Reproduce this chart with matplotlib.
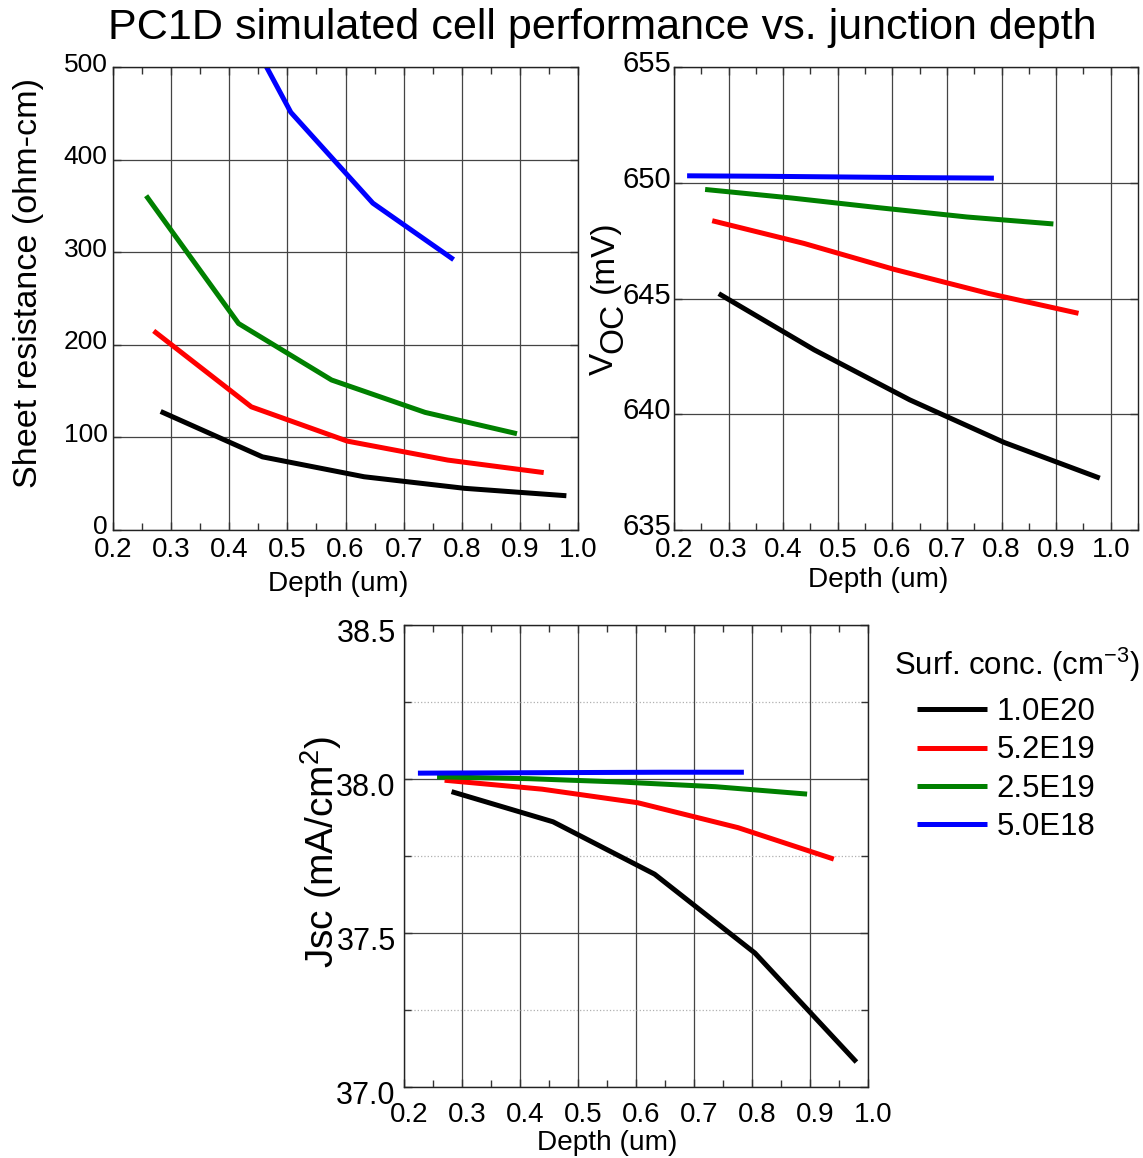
"""PC1D simulated cell performance vs. junction depth (three panels)."""

import matplotlib

matplotlib.use("Agg")
import matplotlib.pyplot as plt
import matplotlib.transforms as mtransforms
from matplotlib.ticker import FormatStrFormatter, MultipleLocator

plt.rcParams["font.family"] = ["Liberation Sans", "DejaVu Sans"]
plt.rcParams["mathtext.default"] = "regular"

# surface concentrations (legend) and colours
conc_labels = ["1.0E20", "5.2E19", "2.5E19", "5.0E18"]
conc_colors = ["#000000", "#ff0000", "#008000", "#0000ff"]

# junction depth (um) per concentration
depth_1e20 = [0.282, 0.457, 0.632, 0.805, 0.980]
depth_52e19 = [0.270, 0.438, 0.603, 0.776, 0.941]
depth_25e19 = [0.257, 0.416, 0.576, 0.737, 0.895]
depth_5e18 = [0.224, 0.365, 0.506, 0.647, 0.786]

# sheet resistance (ohm-cm)
rsh_1e20 = [128, 79, 57.5, 45, 37]
rsh_52e19 = [215, 133, 96, 75.5, 62]
rsh_25e19 = [361, 223, 162, 127, 104]
rsh_5e18 = [900, 616, 451, 353, 292]

# Voc (mV)
voc_1e20 = [645.21, 642.78, 640.62, 638.78, 637.24]
voc_52e19 = [648.36, 647.38, 646.26, 645.22, 644.36]
voc_25e19 = [649.71, 649.34, 648.92, 648.52, 648.22]
voc_5e18 = [650.30, 650.28, 650.25, 650.22, 650.20]

# Jsc (mA/cm2)
jsc_1e20 = [37.959, 37.861, 37.691, 37.435, 37.081]
jsc_52e19 = [37.996, 37.967, 37.923, 37.842, 37.740]
jsc_25e19 = [38.007, 38.001, 37.990, 37.975, 37.951]
jsc_5e18 = [38.019, 38.020, 38.021, 38.022, 38.022]

depths = [depth_1e20, depth_52e19, depth_25e19, depth_5e18]
rsh = [rsh_1e20, rsh_52e19, rsh_25e19, rsh_5e18]
voc = [voc_1e20, voc_52e19, voc_25e19, voc_5e18]
jsc = [jsc_1e20, jsc_52e19, jsc_25e19, jsc_5e18]

W, H = 1143, 1158
fig = plt.figure(figsize=(W / 100, H / 100), dpi=100)


def px_axes(left, top, right, bottom):
    return fig.add_axes([left / W, 1 - bottom / H, (right - left) / W, (bottom - top) / H])


def shift_labels(labels, dx, dy):
    off = mtransforms.ScaledTranslation(dx / 100, -dy / 100, fig.dpi_scale_trans)
    for lab in labels:
        lab.set_transform(lab.get_transform() + off)


def style(ax, xmax, ylim, ystep, yfmt, ysize, ypad):
    ax.set_xlim(0.2, xmax)
    ax.set_ylim(*ylim)
    ax.xaxis.set_major_locator(MultipleLocator(0.1))
    ax.xaxis.set_minor_locator(MultipleLocator(0.05))
    ax.xaxis.set_major_formatter(FormatStrFormatter("%.1f"))
    ax.yaxis.set_major_locator(MultipleLocator(ystep))
    ax.yaxis.set_major_formatter(FormatStrFormatter(yfmt))
    ax.tick_params(which="both", direction="in", top=True, right=True,
                   color="#333333", width=1)
    ax.tick_params(which="major", length=6)
    ax.tick_params(which="minor", length=5)
    ax.tick_params(axis="x", labelsize=20, pad=5)
    ax.tick_params(axis="y", labelsize=ysize, pad=ypad)
    ax.grid(True, which="major", color="#444444", linewidth=0.9)
    for sp in ax.spines.values():
        sp.set_color("#222222")
        sp.set_linewidth(1)


def plot_lines(ax, ys):
    for x, y, c, lab in zip(depths, ys, conc_colors, conc_labels):
        ax.plot(x, y, color=c, linewidth=3.6, label=lab, solid_capstyle="butt")


# sheet resistance
ax1 = px_axes(113, 67, 578, 530)
plot_lines(ax1, rsh)
style(ax1, 1.0, (0, 500), 100, "%d", 19, 4)
shift_labels(ax1.get_yticklabels(), 0, -5)
fig.text(29 / W, 1 - 283 / H, "Sheet resistance (ohm-cm)", rotation=90,
         ha="center", va="center", fontsize=24.6)
fig.text(338 / W, 1 - 584 / H, "Depth (um)", ha="center", va="center", fontsize=20.2)

# Voc
ax2 = px_axes(674, 67, 1138, 530)
plot_lines(ax2, voc)
style(ax2, 1.05, (635, 655), 5, "%d", 21, 2)
shift_labels(ax2.get_yticklabels(), 0, -6)
for txt, bx, by in [("V", 613, 375), ("OC", 622, 353), ("(mV)", 613, 293)]:
    fig.text(bx / W, 1 - by / H, txt, rotation=90, rotation_mode="anchor",
             ha="left", va="baseline", fontsize=24)
fig.text(878 / W, 1 - 580 / H, "Depth (um)", ha="center", va="center", fontsize=20.2)

# Jsc
ax3 = px_axes(404, 625, 868, 1087)
plot_lines(ax3, jsc)
style(ax3, 1.0, (37.0, 38.5), 0.5, "%.1f", 22, 6)
ax3.yaxis.set_minor_locator(MultipleLocator(0.25))
ax3.tick_params(axis="y", which="minor", length=5)
ax3.grid(True, which="minor", axis="y", color="#b0b0b0", linestyle=":", linewidth=0.9)
shift_labels(ax3.get_yticklabels(), 0, 5)
shift_labels(ax3.get_xticklabels(), 5, 8)
fig.text(321 / W, 1 - 852 / H, "Jsc (mA/cm$^{2}$)", rotation=90,
         ha="center", va="center", fontsize=28)
fig.text(607 / W, 1 - 1143 / H, "Depth (um)", ha="center", va="center", fontsize=20.2)

# legend: title as separate text, entries below it
fig.text(894 / W, 1 - 665 / H, "Surf. conc. (cm$^{-3}$)", ha="left", va="center",
         fontsize=22.4)
handles, labels = ax3.get_legend_handles_labels()
fig.legend(handles, labels, loc="upper left",
           bbox_to_anchor=(917 / W, 1 - 697 / H), frameon=False, fontsize=22.4,
           handlelength=2.25, handletextpad=0.3,
           labelspacing=0.27, borderpad=0, borderaxespad=0)

fig.suptitle("PC1D simulated cell performance vs. junction depth",
             x=602 / W, y=1 - 28 / H, va="center", fontsize=31.1)

fig.savefig("out.png", dpi=100)
